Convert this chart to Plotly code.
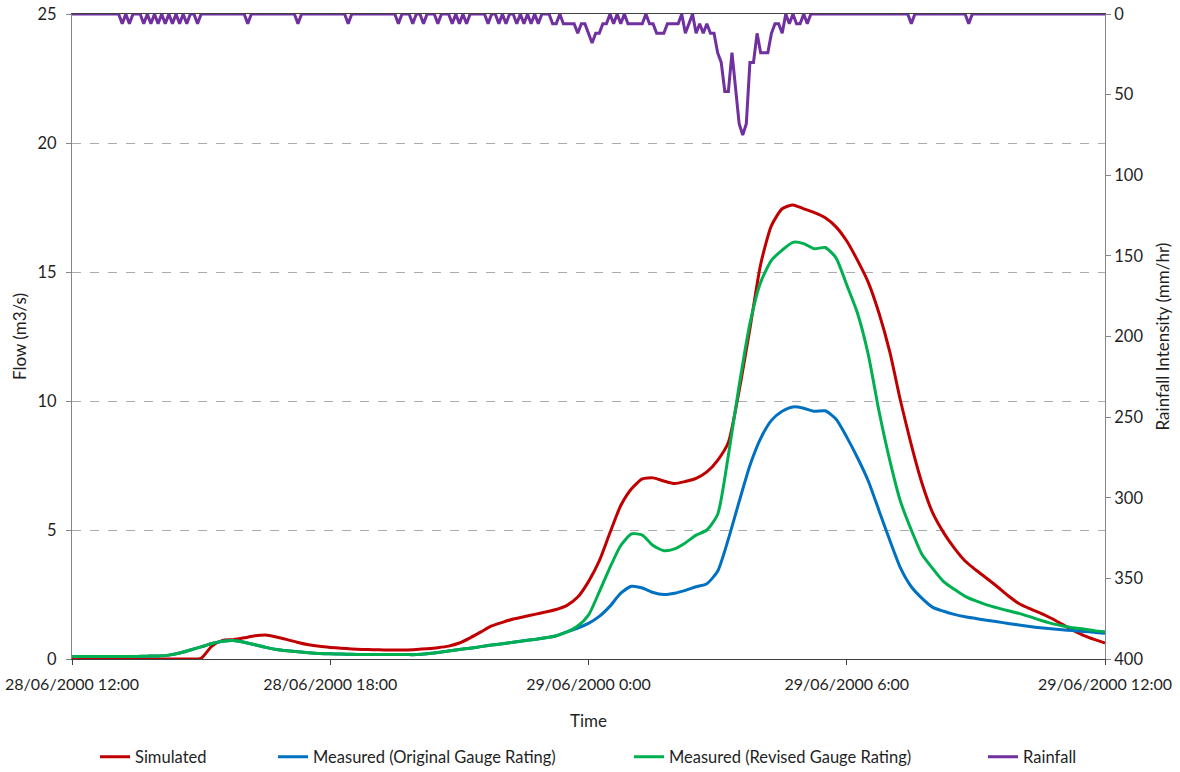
import pandas as pd
import plotly.graph_objects as go

# ---- data ----
flow_times = pd.date_range("2000-06-28 12:00", "2000-06-29 12:00", freq="15min")
rain_times = pd.date_range("2000-06-28 12:00", "2000-06-29 12:00", freq="5min")

simulated = [
    0, 0, 0, 0, 0, 0, 0, 0, 0, 0, 0, 0,
    0.03, 0.5, 0.72, 0.75,
    0.82, 0.9, 0.93, 0.85,
    0.75, 0.64, 0.55, 0.49,
    0.45, 0.42, 0.39, 0.37,
    0.36, 0.35, 0.35, 0.35,
    0.37, 0.4, 0.44, 0.5,
    0.62, 0.82, 1.05, 1.28,
    1.42, 1.55, 1.64, 1.73,
    1.82, 1.92, 2.08, 2.4,
    3.0, 3.8, 4.9, 5.95,
    6.6, 6.98, 7.02, 6.9,
    6.8, 6.88, 7.0, 7.25,
    7.7, 8.4, 10.4, 12.8,
    15.3, 16.8, 17.45, 17.6,
    17.45, 17.3, 17.1, 16.75,
    16.2, 15.45, 14.6, 13.4,
    11.9, 10.0, 8.3, 6.8,
    5.65, 4.9, 4.3, 3.8,
    3.45, 3.13, 2.8, 2.45,
    2.15, 1.95, 1.78, 1.58,
    1.35, 1.12, 0.92, 0.76,
    0.62,
]

measured_original = [
    0.1, 0.1, 0.1, 0.1,
    0.1, 0.1, 0.1, 0.11,
    0.12, 0.15, 0.23, 0.35,
    0.47, 0.6, 0.69, 0.72,
    0.65, 0.55, 0.45, 0.37,
    0.32, 0.28, 0.24, 0.21,
    0.2, 0.19, 0.18, 0.17,
    0.17, 0.17, 0.17, 0.17,
    0.17, 0.2, 0.25, 0.31,
    0.37, 0.42, 0.48, 0.54,
    0.59, 0.65, 0.71, 0.76,
    0.82, 0.9, 1.05, 1.2,
    1.38, 1.65, 2.05, 2.55,
    2.82, 2.75, 2.58, 2.5,
    2.55, 2.66, 2.8, 2.92,
    3.4, 4.65, 6.1, 7.5,
    8.55, 9.25, 9.6, 9.77,
    9.72, 9.6, 9.62, 9.3,
    8.6, 7.8, 6.9, 5.75,
    4.6, 3.52, 2.8, 2.35,
    2.0, 1.85, 1.73, 1.64,
    1.57, 1.5, 1.44, 1.38,
    1.32, 1.26, 1.21, 1.17,
    1.13, 1.1, 1.07, 1.04,
    1.0,
]

measured_revised = [
    0.1, 0.1, 0.1, 0.1,
    0.1, 0.1, 0.1, 0.11,
    0.12, 0.15, 0.23, 0.35,
    0.47, 0.6, 0.69, 0.72,
    0.65, 0.55, 0.45, 0.37,
    0.32, 0.28, 0.24, 0.21,
    0.2, 0.19, 0.18, 0.17,
    0.17, 0.17, 0.17, 0.17,
    0.17, 0.2, 0.25, 0.31,
    0.37, 0.42, 0.48, 0.54,
    0.59, 0.65, 0.71, 0.76,
    0.82, 0.9, 1.05, 1.28,
    1.7, 2.6, 3.55, 4.4,
    4.85, 4.8, 4.4, 4.2,
    4.27, 4.5, 4.8, 5.0,
    5.6, 7.9, 10.6, 13.0,
    14.6, 15.45, 15.85, 16.15,
    16.1, 15.9, 15.95, 15.55,
    14.5, 13.4, 11.8, 9.6,
    7.7, 6.1, 5.0, 4.05,
    3.5, 3.0, 2.7, 2.43,
    2.25, 2.1, 1.98, 1.87,
    1.77, 1.64, 1.5, 1.38,
    1.29, 1.21, 1.16, 1.1,
    1.06,
]

# rainfall intensity (mm/hr), 5-minute steps, one row per hour
rainfall = [
    0, 0, 0, 0, 0, 0, 0, 0, 0, 0, 0, 0,
    0, 0, 6, 0, 6, 0, 0, 0, 6, 0, 6, 0,
    6, 0, 6, 0, 6, 0, 6, 0, 6, 0, 0, 6,
    0, 0, 0, 0, 0, 0, 0, 0, 0, 0, 0, 0,
    0, 6, 0, 0, 0, 0, 0, 0, 0, 0, 0, 0,
    0, 0, 0, 6, 0, 0, 0, 0, 0, 0, 0, 0,
    0, 0, 0, 0, 0, 6, 0, 0, 0, 0, 0, 0,
    0, 0, 0, 0, 0, 0, 0, 6, 0, 0, 0, 6,
    0, 0, 6, 0, 0, 0, 6, 0, 0, 0, 6, 0,
    6, 0, 6, 0, 0, 0, 0, 0, 6, 0, 0, 6,
    0, 6, 0, 0, 6, 0, 6, 0, 6, 0, 6, 0,
    0, 0, 6, 6, 0, 6, 6, 6, 6, 12, 6, 6,
    12, 18, 12, 12, 6, 6, 0, 6, 0, 6, 0, 6,
    6, 6, 6, 6, 0, 6, 6, 12, 12, 12, 6, 6,
    6, 6, 0, 12, 6, 0, 12, 6, 12, 6, 12, 12,
    24, 30, 48, 48, 24, 45, 68, 75, 68, 30, 30, 12,
    24, 24, 24, 12, 6, 6, 12, 0, 6, 0, 6, 6,
    0, 6, 0, 0, 0, 0, 0, 0, 0, 0, 0, 0,
    0, 0, 0, 0, 0, 0, 0, 0, 0, 0, 0, 0,
    0, 0, 0, 0, 0, 0, 6, 0, 0, 0, 0, 0,
    0, 0, 0, 0, 0, 0, 0, 0, 0, 0, 6, 0,
    0, 0, 0, 0, 0, 0, 0, 0, 0, 0, 0, 0,
    0, 0, 0, 0, 0, 0, 0, 0, 0, 0, 0, 0,
    0, 0, 0, 0, 0, 0, 0, 0, 0, 0, 0, 0,
    0,
]

x_tick_vals = ["2000-06-28 12:00", "2000-06-28 18:00", "2000-06-29 00:00",
               "2000-06-29 06:00", "2000-06-29 12:00"]
x_tick_text = ["28/06/2000 12:00", "28/06/2000 18:00", "29/06/2000 0:00",
               "29/06/2000 6:00", "29/06/2000 12:00"]

# ---- figure ----
FONT = "Lato, 'Open Sans', sans-serif"
TXT = "#1f1f1f"
LEG_Y = -0.152

fig = go.Figure()
fig.add_trace(go.Scatter(x=flow_times, y=simulated, name="Simulated", mode="lines",
                         legend="legend",
                         line=dict(color="#C00000", width=3, shape="spline", smoothing=0.6)))
fig.add_trace(go.Scatter(x=flow_times, y=measured_original, name="Measured (Original Gauge Rating)",
                         mode="lines", legend="legend2",
                         line=dict(color="#0070C0", width=3, shape="spline", smoothing=0.6)))
fig.add_trace(go.Scatter(x=flow_times, y=measured_revised, name="Measured (Revised Gauge Rating)",
                         mode="lines", legend="legend3",
                         line=dict(color="#00B050", width=3, shape="spline", smoothing=0.6)))
fig.add_trace(go.Scatter(x=rain_times, y=rainfall, name="Rainfall", mode="lines", yaxis="y2",
                         legend="legend4",
                         line=dict(color="#7030A0", width=3)))

def leg(xpos):
    return dict(orientation="h", x=xpos, xanchor="left", y=LEG_Y, yanchor="middle",
                font=dict(size=16.5, color=TXT), itemwidth=30, bgcolor="rgba(0,0,0,0)")

fig.update_layout(
    width=1180, height=772,
    margin=dict(l=72, r=75, t=14, b=113, autoexpand=False),
    paper_bgcolor="white", plot_bgcolor="white",
    font=dict(family=FONT, size=16, color=TXT),
    showlegend=True,
    legend=leg(0.0223),
    legend2=leg(0.1946),
    legend3=leg(0.5392),
    legend4=leg(0.8819),
    xaxis=dict(
        type="date", automargin=False,
        range=["2000-06-28 12:00", "2000-06-29 12:00"],
        tickvals=x_tick_vals, ticktext=x_tick_text,
        ticks="outside", ticklen=5, tickcolor="#404040", ticklabelstandoff=6,
        showline=True, linecolor="#404040", linewidth=1, mirror=True,
        showgrid=False, zeroline=False,
        tickfont=dict(size=16, color=TXT),
        title=dict(text="Time", font=dict(size=17, color=TXT), standoff=22),
    ),
    yaxis=dict(
        range=[0, 25], dtick=5, automargin=False,
        ticks="outside", ticklen=5, tickcolor="#868686", ticklabelstandoff=6,
        showline=True, linecolor="#868686", linewidth=1,
        showgrid=True, gridcolor="#ABABAB", griddash="dash", gridwidth=1,
        zeroline=False,
        tickfont=dict(size=16.5, color=TXT),
        title=dict(text="Flow (m3/s)", font=dict(size=17, color=TXT), standoff=6),
    ),
    yaxis2=dict(
        overlaying="y", side="right", automargin=False,
        range=[400, 0], dtick=50,
        ticks="outside", ticklen=5, tickcolor="#868686",
        showline=True, linecolor="#868686", linewidth=1,
        showgrid=False, zeroline=False,
        tickfont=dict(size=16.5, color=TXT),
        title=dict(text="Rainfall Intensity (mm/hr)", font=dict(size=17, color=TXT), standoff=14),
    ),
)

fig.write_html("out.html",
               config={"displayModeBar": False},
               post_script="document.body.style.margin='0px'; document.body.style.overflow='hidden';")
